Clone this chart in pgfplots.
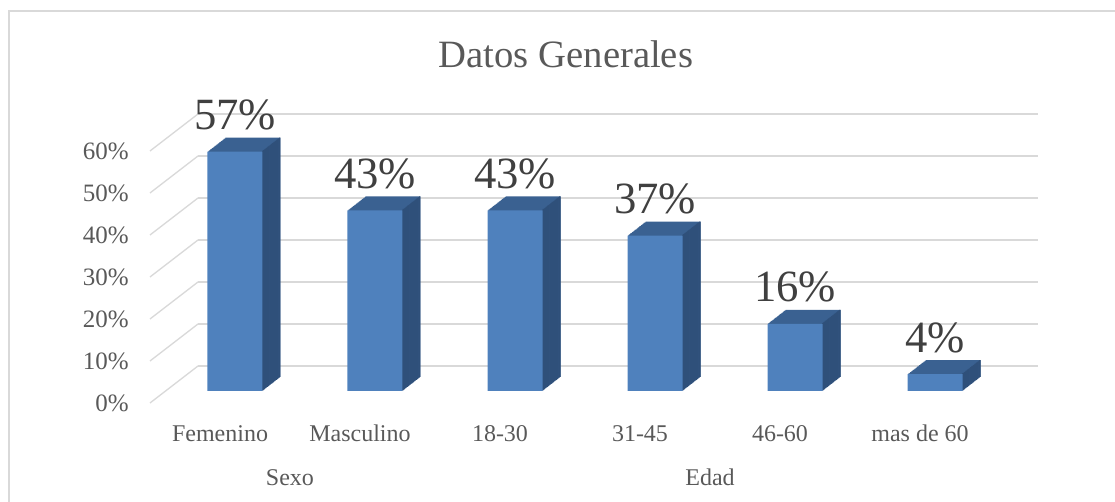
\documentclass[border=0pt]{standalone}
\usepackage{pgfplots}
\pgfplotsset{compat=1.18}
\usepackage{pgfplotstable}
\usepackage{fontspec}
\setmainfont{Liberation Serif}
\definecolor{barfront}{RGB}{79,129,189}
\definecolor{bartop}{RGB}{58,97,145}
\definecolor{barside}{RGB}{47,80,122}
\definecolor{gridc}{RGB}{217,217,217}
\definecolor{txt}{RGB}{89,89,89}
\definecolor{lbl}{RGB}{64,64,64}
\pgfplotstableread{
x y
0 57
1 43
2 43
3 37
4 16
5 4
}\datos
\begin{document}
\begin{tikzpicture}
\useasboundingbox (-165pt,-74.25pt) rectangle (671.25pt,302.25pt);
\draw[gridc, line width=1pt] (-158.25pt,-90pt) -- (-158.25pt,294pt) -- (690pt,294pt);
\begin{axis}[
  at={(-52.5pt,0pt)}, anchor=south west,
  x=105pt, y=3.15pt,
  xmin=-0.5, xmax=5.5, ymin=0, ymax=60,
  axis line style={draw=none},
  clip=false,
  /pgf/number format/assume math mode=true,
  ytick={0,10,...,60},
  yticklabel={\pgfmathprintnumber{\tick}\%},
  yticklabel style={anchor=east, inner sep=0pt, xshift=-15.75pt, font=\fontsize{18.75}{20}\selectfont, text=txt},
  xtick=data,
  xticklabels={Femenino,Masculino,18-30,31-45,46-60,mas de 60},
  xticklabel style={anchor=base, inner sep=0pt, yshift=-28.9pt, font=\fontsize{18}{20}\selectfont, text=txt},
  major tick length=0pt,
  tick style={draw=none},
  ymajorgrids,
  major grid style={draw=gridc, line width=1pt, xshift=36pt, yshift=27.75pt},
]
\pgfplotsinvokeforeach{0,10,...,60}{
  \draw[gridc, line width=1pt] (axis cs:-0.5,#1) -- ++(36pt,27.75pt);
}
% top faces (extrusion)
\pgfplotsinvokeforeach{20,19,...,1}{
  \addplot[ybar, bar width=41.25pt, bar shift=0pt, fill=bartop, draw=none,
    xshift=11.25pt+#1*0.675pt, yshift=9pt+#1*0.525pt] table[x=x,y=y]{\datos};
}
% side faces
\pgfplotsinvokeforeach{20,19,...,1}{
  \addplot[ybar, bar width=1pt, bar shift=20.125pt, fill=barside, draw=none,
    xshift=11.25pt+#1*0.675pt, yshift=9pt+#1*0.525pt] table[x=x,y=y]{\datos};
}
% front faces
\addplot[ybar, bar width=41.25pt, bar shift=0pt, fill=barfront, draw=none,
  xshift=11.25pt, yshift=9pt,
  nodes near coords={\pgfmathprintnumber{\pgfplotspointmeta}\%},
  every node near coord/.append style={anchor=south, inner sep=0pt, yshift=15.75pt,
    font=\fontsize{33.5}{36}\selectfont, text=lbl}] table[x=x,y=y]{\datos};
\node[anchor=base, inner sep=0pt, font=\fontsize{18}{20}\selectfont, text=txt] at (axis cs:0.5,0) [yshift=-62.25pt] {Sexo};
\node[anchor=base, inner sep=0pt, font=\fontsize{18}{20}\selectfont, text=txt] at (axis cs:3.5,0) [yshift=-62.25pt] {Edad};
\end{axis}
\node[anchor=base, inner sep=0pt, font=\fontsize{29}{32}\selectfont, text=txt] at (259.5pt,251.25pt) {Datos Generales};
\end{tikzpicture}
\end{document}
